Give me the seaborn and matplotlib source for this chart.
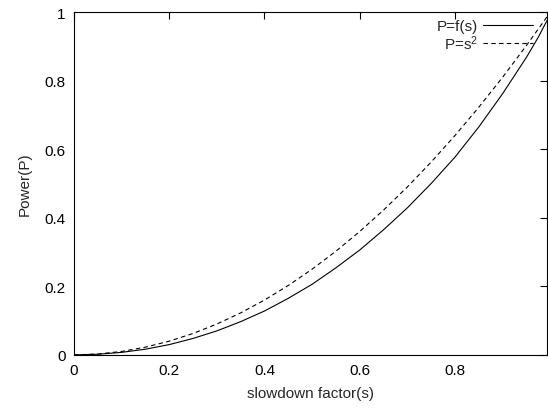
import matplotlib
matplotlib.use("Agg")
import matplotlib.pyplot as plt
import seaborn as sns
import pandas as pd

# slowdown factor samples
s_vals = [0.0, 0.05, 0.1, 0.15, 0.2, 0.25, 0.3, 0.35, 0.4, 0.45, 0.5,
          0.55, 0.6, 0.65, 0.7, 0.75, 0.8, 0.85, 0.9, 0.95, 0.975, 0.993]
# P=f(s), solid curve
p_model = [0.0, 0.0018, 0.0073, 0.0166, 0.030, 0.048, 0.070, 0.097, 0.128,
           0.165, 0.206, 0.254, 0.306, 0.365, 0.429, 0.500, 0.577, 0.665,
           0.762, 0.868, 0.927, 0.975]
# P=s^2, dashed curve
p_square = [0.0, 0.0025, 0.01, 0.0225, 0.04, 0.0625, 0.09, 0.1225, 0.16,
            0.2025, 0.25, 0.3025, 0.36, 0.4225, 0.49, 0.5625, 0.64, 0.7225,
            0.81, 0.9025, 0.951, 0.986]

series_labels = ["P=f(s)", r"P=s$^{2}$"]
x_ticks = [0, 0.2, 0.4, 0.6, 0.8]
x_ticklabels = ["0", "0.2", "0.4", "0.6", "0.8"]
y_ticks = [0, 0.2, 0.4, 0.6, 0.8, 1]
y_ticklabels = ["0", "0.2", "0.4", "0.6", "0.8", "1"]

sns.set_style("white")
plt.rcParams["font.family"] = ["Liberation Sans", "DejaVu Sans"]
plt.rcParams["mathtext.fontset"] = "custom"
plt.rcParams["mathtext.rm"] = "Liberation Sans"
plt.rcParams["mathtext.default"] = "regular"

df = pd.DataFrame({"s": s_vals, "model": p_model, "square": p_square})

fig = plt.figure(figsize=(5.48, 4.10), dpi=100)
ax = fig.add_axes([0.135, 0.132, 0.863, 0.836])

sns.lineplot(data=df, x="s", y="model", ax=ax, color="black", linewidth=0.8,
             label=series_labels[0])
sns.lineplot(data=df, x="s", y="square", ax=ax, color="black", linewidth=0.8,
             linestyle=(0, (4, 3)), label=series_labels[1])

ax.set_xlim(0, 0.993)
ax.set_ylim(0, 1)
ax.set_xticks(x_ticks)
ax.set_xticklabels(x_ticklabels)
ax.set_yticks(y_ticks)
ax.set_yticklabels(y_ticklabels)
ax.tick_params(direction="in", length=5, width=0.8, top=True, right=True,
               labelsize=11, pad=6, colors="black")
for sp in ax.spines.values():
    sp.set_visible(True)
    sp.set_color("black")
    sp.set_linewidth(0.8)

ax.set_xlabel("slowdown factor(s)", fontsize=11, labelpad=6)
ax.set_ylabel("Power(P)", fontsize=11, labelpad=9)

ax.legend(loc="upper right", markerfirst=False, frameon=False, fontsize=11,
          handlelength=3.3, handletextpad=0.3, labelspacing=0.0,
          borderaxespad=0.05, bbox_to_anchor=(0.985, 1.0))

fig.savefig("out.png", dpi=100)
